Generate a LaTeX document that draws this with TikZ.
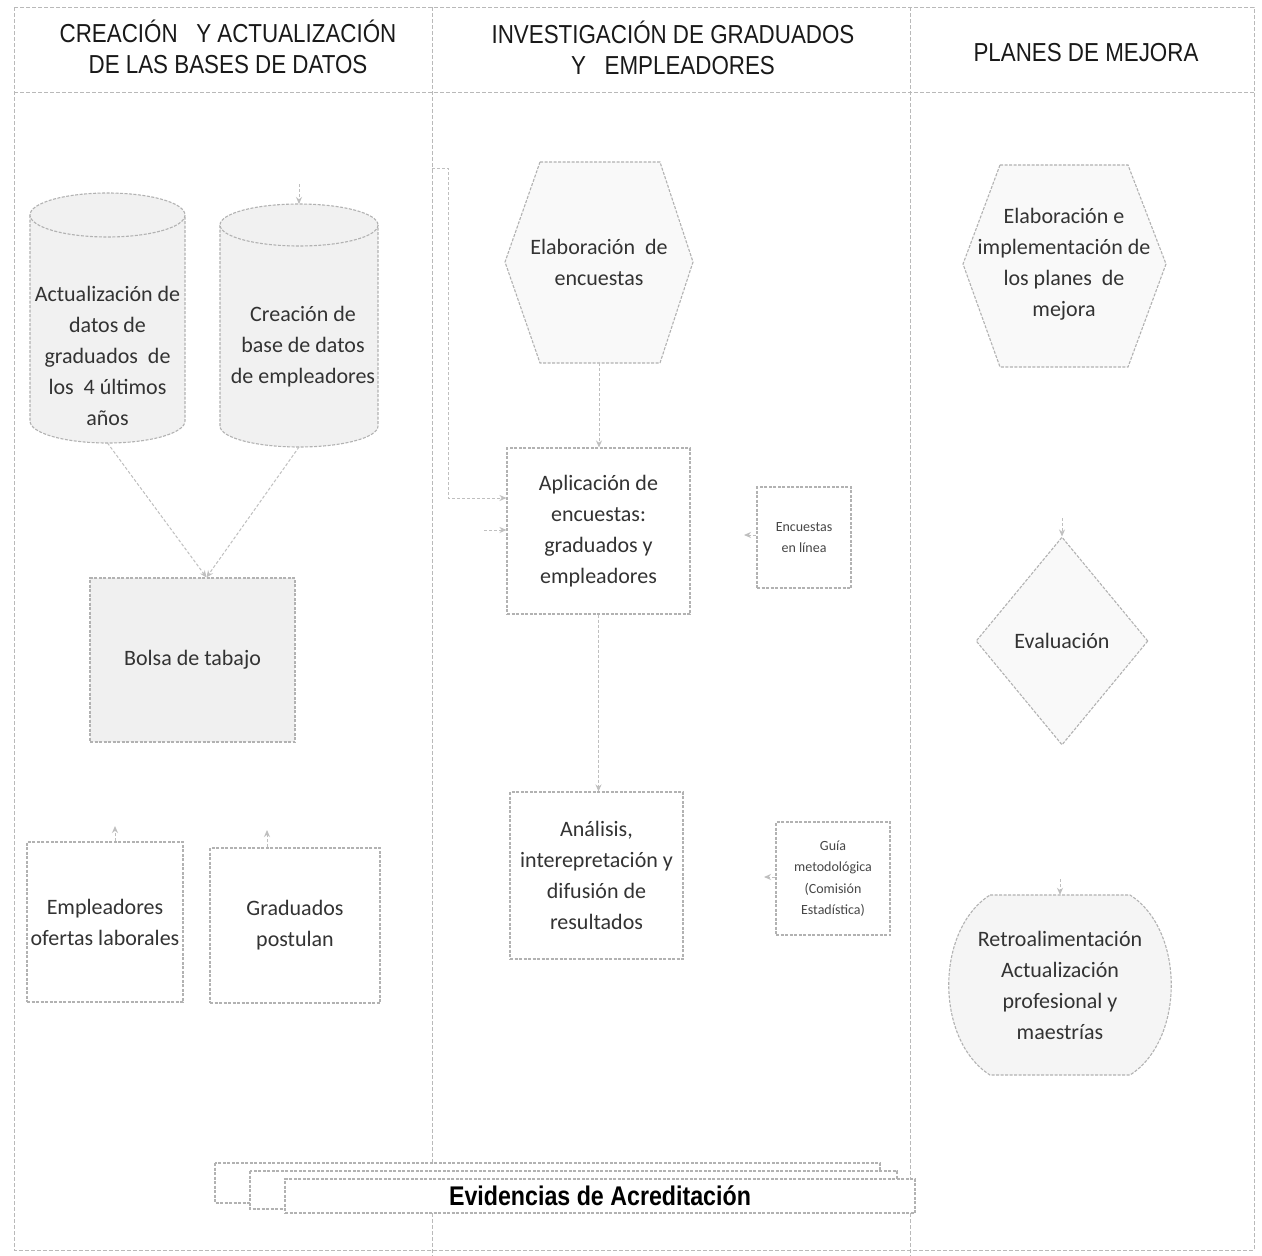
\documentclass[tikz,border=0pt]{standalone}
\usepackage{fontspec}
\setmainfont{Carlito}
\newfontfamily\hdr[FakeStretch=0.86]{Liberation Sans}
\usetikzlibrary{shapes.geometric,arrows.meta}
\begin{document}
\begin{tikzpicture}[x=1pt,y=-1pt,
 ln/.style={draw=gray!60, line width=1.1pt, dash pattern=on 3pt off 1.5pt},
 lane/.style={draw=gray!55, line width=0.9pt, dash pattern=on 4pt off 2pt},
 txt/.style={align=center, text=black!80, font=\fontsize{22}{31}\selectfont, inner sep=0pt},
 small/.style={align=center, text=black!72, font=\fontsize{14}{21.5}\selectfont, inner sep=0pt},
 hd/.style={align=center, text=black!90, inner sep=0pt, font=\hdr\fontsize{26}{31}\selectfont},
 arr/.style={draw=gray!50, line width=1pt, dash pattern=on 3pt off 2pt, -{Stealth[length=7pt,width=6pt]}},
 box/.style={ln, fill=white},
]
\useasboundingbox[fill=white] (0,0) rectangle (1262,1256);

% lanes
\draw[lane] (14,7) rectangle (1254,1250);
\draw[lane] (14,92) -- (1254,92);
\draw[lane] (432,7) -- (432,1256);
\draw[lane] (910,7) -- (910,1256);

% headers
\node[hd] (h1) at (228,47) {CREACIÓN\ \ \ Y ACTUALIZACIÓN\\DE LAS BASES DE DATOS};
\node[hd] (h2) at (673,48) {INVESTIGACIÓN DE GRADUADOS\\Y\ \ \ EMPLEADORES};
\node[hd] (h3) at (1086,53) {PLANES DE MEJORA};

% cylinder 1
\fill[gray!11] (30,215) rectangle (185,421);
\fill[gray!11] (107.5,421) ellipse[x radius=77.5, y radius=22];
\draw[ln] (30,215) -- (30,421) arc[start angle=180, end angle=0, x radius=77.5, y radius=22] -- (185,215);
\draw[ln, fill=gray!11] (107.5,215) ellipse[x radius=77.5, y radius=22];
% cylinder 2
\fill[gray!11] (220,225) rectangle (378,426);
\fill[gray!11] (299,426) ellipse[x radius=79, y radius=21];
\draw[ln] (220,225) -- (220,426) arc[start angle=180, end angle=0, x radius=79, y radius=21] -- (378,225);
\draw[ln, fill=gray!11] (299,225) ellipse[x radius=79, y radius=21];

\node[txt] (cyl1) at (107.5,356) {Actualización de\\datos de\\graduados\ \ de\\los\ \ 4 últimos\\años};
\node[txt] (cyl2) at (303,347) {Creación de\\base de datos\\de empleadores};
\coordinate (c1b) at (107.5,443);
\coordinate (c2b) at (299,447);
\coordinate (c2t) at (299,184);

% left lane boxes
\node[txt, ln, fill=gray!12, minimum width=205pt, minimum height=164pt] (bolsa) at (192.5,660) {Bolsa de tabajo};
\node[txt, box, minimum width=156pt, minimum height=160pt] (emp) at (105,922) {Empleadores\\ofertas laborales};
\node[txt, box, minimum width=170pt, minimum height=155pt] (grad) at (295,925.5) {Graduados\\postulan};
\coordinate (empUp) at (115,826);
\coordinate (gradUp) at (267,830);

% middle lane
\draw[ln, fill=gray!5] (540,162) -- (660,162) -- (693,262) -- (660,363) -- (540,363) -- (505,262) -- cycle;
\node[txt, minimum width=188pt, minimum height=201pt] (hex1) at (599,262.5) {Elaboración\ \ de\\encuestas};
\node[txt, box, minimum width=183pt, minimum height=166pt] (apl) at (598.5,531) {Aplicación de\\encuestas:\\graduados y\\empleadores};
\node[small, box, minimum width=94pt, minimum height=101pt] (enc) at (804,537.5) {Encuestas\\en línea};
\node[txt, box, minimum width=173pt, minimum height=167pt] (ana) at (596.5,875.5) {Análisis,\\interepretación y\\difusión de\\resultados};
\node[small, box, minimum width=114pt, minimum height=113pt] (guia) at (833,878.5) {Guía\\metodológica\\(Comisión\\Estadística)};
\coordinate (encL) at (744,535);
\coordinate (guiaL) at (764,877);
\coordinate (fbA) at (432,168);
\coordinate (fbB) at (448,168);
\coordinate (fbC) at (448,498);
\coordinate (fbD) at (484,530);

% right lane
\draw[ln, fill=gray!5] (1000,165) -- (1128,165) -- (1166,264) -- (1128,367) -- (1000,367) -- (963,264) -- cycle;
\node[txt, minimum width=203pt, minimum height=202pt] (hex2) at (1064,264) {Elaboración e\\implementación de\\los planes\ \ de\\mejora};
\node[txt, diamond, ln, fill=gray!5, minimum width=172pt, minimum height=208pt] (eval) at (1062,641) {Evaluación};
\draw[ln, fill=gray!8] (990,895) -- (1130,895) .. controls (1185,930) and (1185,1040) .. (1130,1075) -- (990,1075) .. controls (935,1040) and (935,930) .. cycle;
\node[txt, minimum width=222pt, minimum height=180pt] (retro) at (1060,985) {Retroalimentación\\Actualización\\profesional y\\maestrías};
\coordinate (evalUp) at (1062,518);
\coordinate (retroUp) at (1060,879);

% evidencias (multi document)
\draw[box] (215,1163) rectangle (880,1203);
\draw[box] (250,1171) rectangle (897,1209);
\node[box, minimum width=630pt, minimum height=34pt, inner sep=0pt, text=black, font=\hdr\bfseries\fontsize{27}{30}\selectfont] (evid) at (600,1196) {Evidencias de Acreditación};

% connectors
\draw[arr] (c1b) -- ([xshift=14pt]bolsa.north);
\draw[arr] (c2b) -- ([xshift=14pt]bolsa.north);
\draw[arr] (c2t) -- (299,204);
\draw[arr] (emp.north -| empUp) -- (empUp);
\draw[arr] (grad.north -| gradUp) -- (gradUp);
\draw[arr] (hex1.south) -- (hex1.south |- apl.north);
\draw[arr] (apl.south) -- (apl.south |- ana.north);
\draw[arr] (enc.west |- encL) -- (encL);
\draw[arr] (guia.west |- guiaL) -- (guiaL);
\draw[arr] (fbA) -- (fbB) -- (fbC) -- (fbC -| apl.west);
\draw[arr] (fbD) -- (fbD -| apl.west);
\draw[arr] (evalUp) -- (eval.north);
\draw[arr] (retroUp) -- (retro.north);
\end{tikzpicture}
\end{document}
